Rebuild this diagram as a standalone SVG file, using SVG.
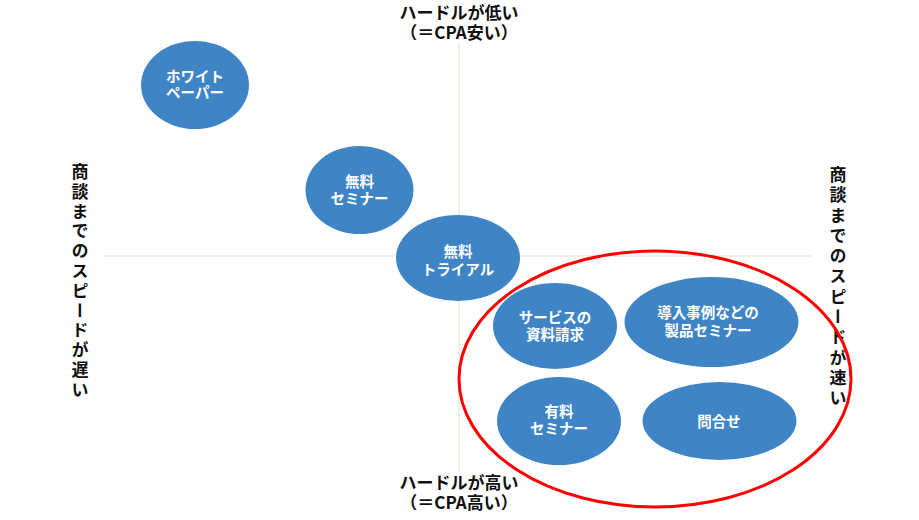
<svg xmlns="http://www.w3.org/2000/svg" width="919" height="520" viewBox="0 0 919 520">
<style>
.lbl{font-family:"Noto Sans CJK JP","Liberation Sans",sans-serif;font-weight:bold;font-size:17px;fill:#111;text-anchor:middle}
.vl{font-family:"Noto Sans CJK JP","Liberation Sans",sans-serif;font-weight:bold;font-size:17px;fill:#111;writing-mode:vertical-rl;text-anchor:start}
.nt{font-family:"Noto Sans CJK JP","Liberation Sans",sans-serif;font-weight:bold;font-size:14.5px;fill:#fff;text-anchor:middle}
.node{fill:#3f85c6}
.axis{stroke:#ecebdf;stroke-width:1.5;fill:none}
</style>
<rect width="919" height="520" fill="#fff"/>
<g id="connectors">
<line class="axis" x1="459" y1="42" x2="459" y2="472"/>
<line class="axis" x1="103" y1="256" x2="812" y2="256"/>
</g>
<g id="labels">
<text class="lbl" x="459" y="19">ハードルが低い<tspan x="459" y="39">（＝CPA安い）</tspan></text>
<text class="lbl" x="459" y="489">ハードルが高い<tspan x="459" y="509">（＝CPA高い）</tspan></text>
<text id="left-label" class="vl" x="80" y="163" style="letter-spacing:2.8px">商談までのスピードが遅い</text>
<text id="right-label" class="vl" x="838" y="166" style="letter-spacing:3.3px">商談までのスピードが速い</text>
</g>
<g id="n-whitepaper">
<ellipse class="node" cx="195" cy="85" rx="54" ry="44"/>
<text class="nt" x="195" y="82">ホワイト<tspan x="195" y="98">ペーパー</tspan></text>
</g>
<g id="n-free-seminar">
<ellipse class="node" cx="359.5" cy="190" rx="54" ry="44"/>
<text class="nt" x="359.5" y="187">無料<tspan x="359.5" y="204">セミナー</tspan></text>
</g>
<g id="n-free-trial">
<ellipse class="node" cx="458" cy="258" rx="62" ry="43"/>
<text class="nt" x="458" y="257">無料<tspan x="458" y="275">トライアル</tspan></text>
</g>
<g id="n-doc-request">
<ellipse class="node" cx="555" cy="326" rx="62" ry="43"/>
<text class="nt" x="555" y="323">サービスの<tspan x="555" y="340">資料請求</tspan></text>
</g>
<g id="n-case-seminar">
<ellipse class="node" cx="711.5" cy="322" rx="87" ry="45"/>
<text class="nt" x="708" y="318">導入事例などの<tspan x="708" y="336">製品セミナー</tspan></text>
</g>
<g id="n-paid-seminar">
<ellipse class="node" cx="559" cy="421" rx="62" ry="44"/>
<text class="nt" x="559" y="417">有料<tspan x="559" y="434">セミナー</tspan></text>
</g>
<g id="n-inquiry">
<ellipse class="node" cx="719.5" cy="421" rx="77" ry="39"/>
<text class="nt" x="719" y="427">問合せ</text>
</g>
<g id="highlight">
<ellipse cx="655" cy="379" rx="196" ry="128" fill="none" stroke="#ff0000" stroke-width="3"/>
</g>
</svg>
